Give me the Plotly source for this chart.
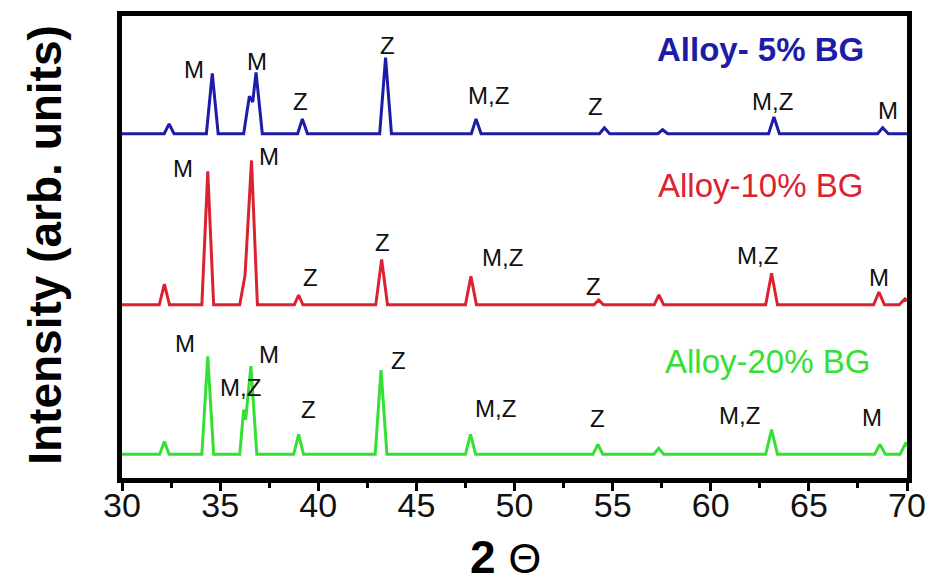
import plotly.graph_objects as go

# ---- data (2-theta in degrees, intensity in arb. units above each baseline) ----
blue_x = [30.0, 32.15, 32.4, 32.65, 34.3, 34.6, 34.9, 36.2, 36.49, 36.66, 36.83, 37.15, 38.95, 39.19, 39.45,
          43.13, 43.43, 43.73, 47.8, 48.04, 48.3, 54.33, 54.58, 54.85, 57.3, 57.55, 57.8, 62.95, 63.22, 63.5,
          68.5, 68.76, 69.05, 70.0]
blue_y = [0, 0, 10, 0, 0, 61, 0, 0, 38, 32, 62, 0, 0, 15, 0,
          0, 77, 0, 0, 15, 0, 0, 6, 0, 0, 4, 0, 0, 17, 0,
          0, 6, 0, 0]

red_x = [30.0, 31.9, 32.16, 32.42, 34.07, 34.37, 34.67, 36.0, 36.27, 36.6, 36.9, 38.78, 39.0, 39.22,
         42.93, 43.23, 43.53, 47.5, 47.78, 48.06, 54.05, 54.29, 54.53, 57.12, 57.36, 57.6, 62.8, 63.1, 63.4,
         68.3, 68.57, 68.85, 69.6, 69.9, 70.0]
red_y = [0, 0, 21, 0, 0, 135, 0, 0, 30, 146, 0, 0, 10, 0,
         0, 46, 0, 0, 29, 0, 0, 5, 0, 0, 10, 0, 0, 32, 0,
         0, 13, 0, 0, 6, 4]

green_x = [30.0, 31.92, 32.16, 32.4, 34.07, 34.37, 34.67, 36.0, 36.2, 36.3, 36.4, 36.57, 36.87, 38.75, 39.0, 39.25,
           42.9, 43.2, 43.5, 47.5, 47.76, 48.02, 54.0, 54.25, 54.5, 57.1, 57.35, 57.6, 62.8, 63.1, 63.4,
           68.35, 68.62, 68.9, 69.65, 69.95, 70.0]
green_y = [0, 0, 13, 0, 0, 99, 0, 0, 45, 35, 55, 89, 0, 0, 20, 0,
           0, 85, 0, 0, 20, 0, 0, 10, 0, 0, 6, 0, 0, 25, 0,
           0, 10, 0, 0, 12, 8]

series_names = ["Alloy- 5% BG", "Alloy-10% BG", "Alloy-20% BG"]
series_offsets = [348, 175, 24]
series_colors = ["#1c1ca8", "#dc2230", "#33e033"]

# peak labels: (text, 2-theta, height above baseline)
blue_labels = [("M", 33.67, 65), ("M", 36.88, 73), ("Z", 39.07, 33), ("Z", 43.55, 89), ("M,Z", 48.65, 39),
               ("Z", 54.15, 28), ("M,Z", 63.17, 33), ("M", 69.03, 23)]
red_labels = [("M", 33.11, 138), ("M", 37.49, 150), ("Z", 39.58, 28), ("Z", 43.25, 63), ("M,Z", 49.41, 48),
              ("Z", 54.05, 19), ("M,Z", 62.36, 50), ("M", 68.57, 28)]
green_labels = [("M", 33.21, 112), ("M", 37.49, 101), ("M,Z", 36.06, 67), ("Z", 39.48, 45), ("Z", 44.11, 95),
                ("M,Z", 49.01, 46), ("Z", 54.25, 36), ("M,Z", 61.49, 39), ("M", 68.22, 37)]

name_x = [62.56, 62.51, 62.87]
name_y = [85, 121, 94]

x_ticks = [30, 35, 40, 45, 50, 55, 60, 65, 70]

FONT = "Arial, Liberation Sans, Helvetica, sans-serif"

fig = go.Figure()
xs = [blue_x, red_x, green_x]
ys = [blue_y, red_y, green_y]
for i in range(3):
    fig.add_trace(go.Scatter(
        x=xs[i], y=[v + series_offsets[i] for v in ys[i]], mode="lines",
        line=dict(color=series_colors[i], width=3), name=series_names[i],
        showlegend=False, hoverinfo="skip"))

annotations = []
for lbls, off in [(blue_labels, series_offsets[0]), (red_labels, series_offsets[1]), (green_labels, series_offsets[2])]:
    for t, x, h in lbls:
        annotations.append(dict(x=x, y=h + off, xref="x", yref="y", text=t, showarrow=False,
                                font=dict(family=FONT, size=24, color="#111111")))

name_bold = [True, False, False]
for i in range(3):
    txt = f"<b>{series_names[i]}</b>" if name_bold[i] else series_names[i]
    annotations.append(dict(x=name_x[i], y=name_y[i] + series_offsets[i], xref="x", yref="y", text=txt,
                            showarrow=False, font=dict(family=FONT, size=33, color=series_colors[i])))

# axis titles
annotations.append(dict(x=-0.098, y=0.505, xref="paper", yref="paper", text="<b>Intensity (arb. units)</b>",
                        textangle=-90, showarrow=False, xanchor="center", yanchor="middle",
                        font=dict(family=FONT, size=46, color="black")))
annotations.append(dict(x=0.489, y=-0.171, xref="paper", yref="paper",
                        text="<b>2</b> <span style='font-size:42px'>Θ</span>",
                        showarrow=False, xanchor="center", yanchor="middle",
                        font=dict(family=FONT, size=46, color="black")))

# page body has an 8px margin: size the figure so the plot frame lands where the reference has it
fig.update_layout(
    width=929, height=577,
    margin=dict(l=114, r=30, t=3, b=107),
    paper_bgcolor="white", plot_bgcolor="white",
    annotations=annotations,
    xaxis=dict(range=[30, 70], tickvals=x_ticks, ticktext=[str(v) for v in x_ticks],
               showline=True, mirror=True, linecolor="black", linewidth=5,
               ticks="outside", ticklen=8, tickwidth=3, tickcolor="black",
               ticklabelstandoff=-15,
               minor=dict(dtick=2.5, tick0=30, ticks="outside", ticklen=5, tickwidth=3, tickcolor="black"),
               showgrid=False, zeroline=False,
               tickfont=dict(family=FONT, size=34, color="#111111")),
    yaxis=dict(range=[0, 467], showline=True, mirror=True, linecolor="black", linewidth=5,
               showticklabels=False, ticks="", showgrid=False, zeroline=False),
)

fig.write_html("out.html")
